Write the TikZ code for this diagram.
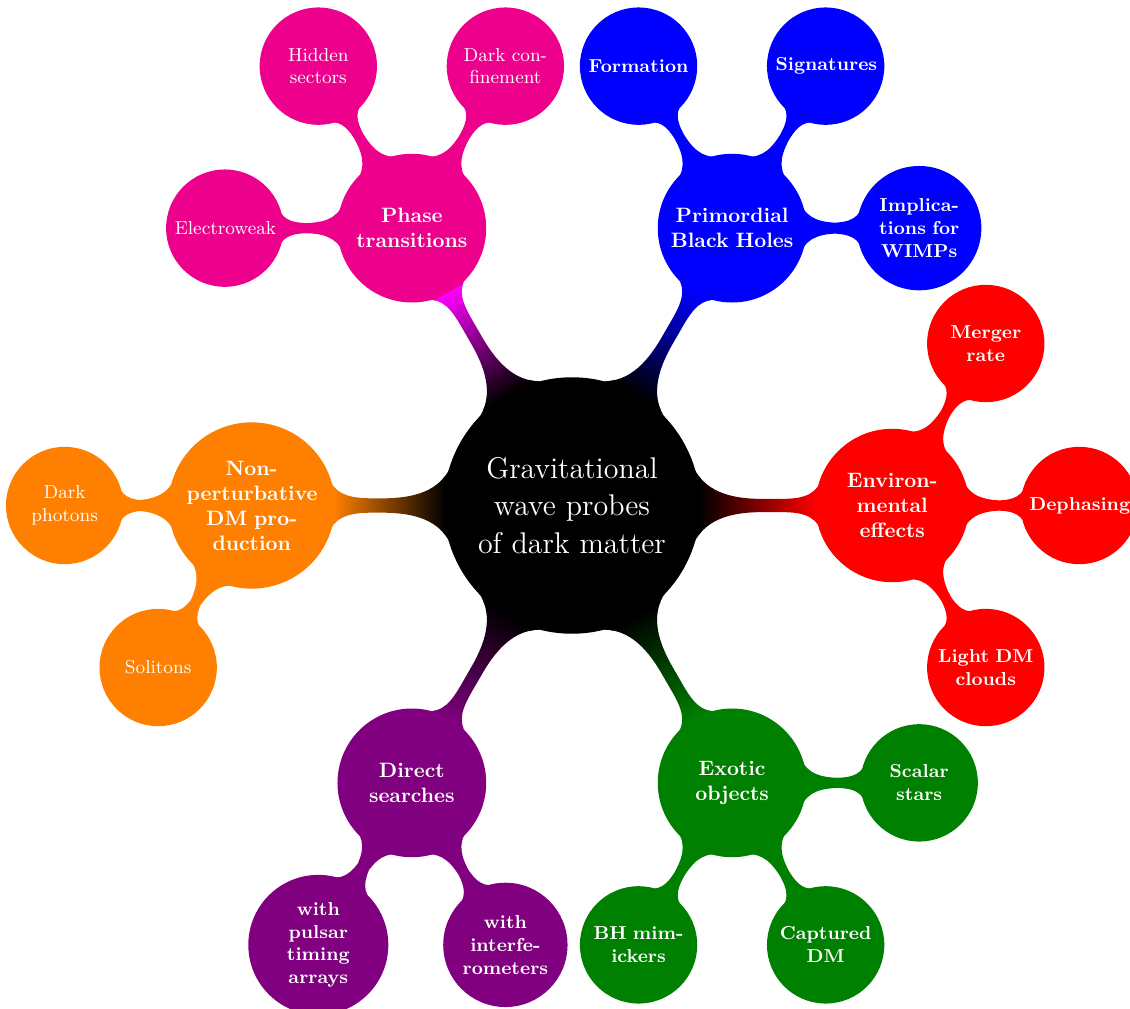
\documentclass[tikz,border=0pt]{standalone}
\usepackage{tikz}
\usetikzlibrary{mindmap, calc}

\begin{document}
\begin{tikzpicture}[
    mindmap,
    core/.style={concept, concept color=black, text=white,
                 minimum size=4.29cm, text width=3.3cm,
                 font=\Large, inner sep=1pt},
    topic/.style={concept, concept color=#1, text=white,
                  minimum size=2.47cm, text width=2.2cm,
                  font=\bfseries, inner sep=1pt},
    leaf/.style={concept, concept color=#1, text=white,
                 minimum size=1.94cm, text width=1.69cm,
                 font=\small\bfseries, inner sep=1pt},
    plainleaf/.style={leaf=#1, font=\small},
    bar/.style 2 args={circle connection bar switch color=from (#1) to (#2)},
    twig/.style={concept color=#1}
]
\useasboundingbox (-9.662,-8.505) rectangle (9.426,8.539);

\node[core] (root) at (0,0) {Gravitational\\wave probes\\of dark matter};

% first ring
\node[topic=magenta] (phase)  at (120:5.41cm) {Phase\\transitions};
\node[topic=blue]    (pbh)    at (60:5.41cm)  {Primordial\\Black Holes};
\node[topic=red]     (env)    at (0:5.41cm)   {Environ-\\mental\\effects};
\node[topic=green!50!black] (exotic) at (-60:5.41cm) {Exotic\\objects};
\node[topic=violet]  (direct) at (-120:5.41cm) {Direct\\searches};
\node[topic=orange]  (nonpert) at (180:5.41cm) {Non-\\perturbative\\DM pro-\\duction};

% second ring
\node[plainleaf=magenta] (ew)     at ($(phase)+(180:3.16cm)$) {Electroweak};
\node[plainleaf=magenta] (hidden) at ($(phase)+(120:3.16cm)$) {Hidden\\sectors};
\node[plainleaf=magenta] (conf)   at ($(phase)+(60:3.16cm)$)  {Dark con-\\finement};

\node[leaf=blue] (form) at ($(pbh)+(120:3.16cm)$) {Formation};
\node[leaf=blue] (sign) at ($(pbh)+(60:3.16cm)$)  {Signatures};
\node[leaf=blue] (wimp) at ($(pbh)+(0:3.16cm)$)   {Implica-\\tions for\\WIMPs};

\node[leaf=red] (merger) at ($(env)+(60:3.16cm)$)  {Merger\\rate};
\node[leaf=red] (deph)   at ($(env)+(0:3.16cm)$)   {Dephasing};
\node[leaf=red] (clouds) at ($(env)+(-60:3.16cm)$) {Light DM\\clouds};

\node[leaf=green!50!black] (scalar) at ($(exotic)+(0:3.16cm)$)    {Scalar\\stars};
\node[leaf=green!50!black] (capt)   at ($(exotic)+(-60:3.16cm)$)  {Captured\\DM};
\node[leaf=green!50!black] (mimic)  at ($(exotic)+(-120:3.16cm)$) {BH mim-\\ickers};

\node[leaf=violet] (ifo) at ($(direct)+(-60:3.16cm)$)  {with\\interfe-\\rometers};
\node[leaf=violet] (pta) at ($(direct)+(-120:3.16cm)$) {with\\pulsar\\timing\\arrays};

\node[plainleaf=orange] (dphot) at ($(nonpert)+(180:3.16cm)$)  {Dark\\photons};
\node[plainleaf=orange] (solit) at ($(nonpert)+(-120:3.16cm)$) {Solitons};

% bars
\path (root) to[bar={black}{magenta}] (phase);
\path (root) to[bar={black}{blue}] (pbh);
\path (root) to[bar={black}{red}] (env);
\path (root) to[bar={black}{green!50!black}] (exotic);
\path (root) to[bar={black}{violet}] (direct);
\path (root) to[bar={black}{orange}] (nonpert);

\path[twig=magenta] (phase) to[circle connection bar] (ew);
\path[twig=magenta] (phase) to[circle connection bar] (hidden);
\path[twig=magenta] (phase) to[circle connection bar] (conf);
\path[twig=blue] (pbh) to[circle connection bar] (form);
\path[twig=blue] (pbh) to[circle connection bar] (sign);
\path[twig=blue] (pbh) to[circle connection bar] (wimp);
\path[twig=red] (env) to[circle connection bar] (merger);
\path[twig=red] (env) to[circle connection bar] (deph);
\path[twig=red] (env) to[circle connection bar] (clouds);
\path[twig=green!50!black] (exotic) to[circle connection bar] (scalar);
\path[twig=green!50!black] (exotic) to[circle connection bar] (capt);
\path[twig=green!50!black] (exotic) to[circle connection bar] (mimic);
\path[twig=violet] (direct) to[circle connection bar] (ifo);
\path[twig=violet] (direct) to[circle connection bar] (pta);
\path[twig=orange] (nonpert) to[circle connection bar] (dphot);
\path[twig=orange] (nonpert) to[circle connection bar] (solit);

\end{tikzpicture}
\end{document}
